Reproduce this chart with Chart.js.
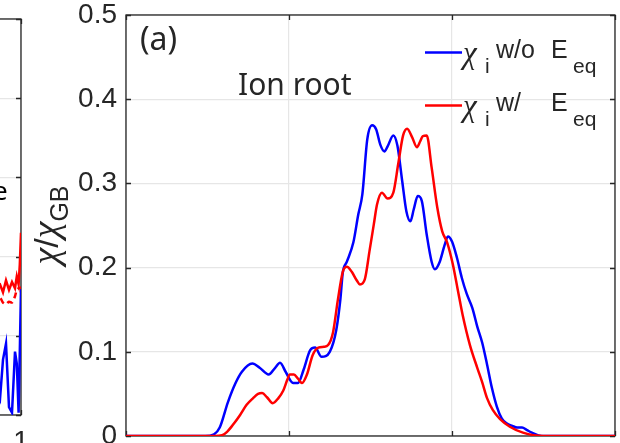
<!DOCTYPE html>
<html>
<head>
<meta charset="utf-8">
<script src="https://cdn.jsdelivr.net/npm/chart.js@4.4.1/dist/chart.umd.min.js"></script>
<style>
  html, body { margin: 0; padding: 0; background: #fff; overflow: hidden; }
  #wrap { position: relative; width: 620px; height: 443px; overflow: hidden; background: #fff; }
  #left { position: absolute; left: -99px; top: 0; }
  #main { position: absolute; left: 0; top: 0; }
</style>
</head>
<body>
<div id="wrap">
  <canvas id="left" width="140" height="480"></canvas>
  <canvas id="main" width="620" height="480"></canvas>
</div>
<script>
// chi_i profiles, without / with the equilibrium radial field
const rhoNoEr = [0, 0.097, 0.108, 0.115, 0.125, 0.134, 0.142, 0.155, 0.164, 0.175, 0.183, 0.189, 0.196, 0.205, 0.211,
  0.218, 0.226, 0.232, 0.240, 0.250, 0.258, 0.263, 0.266, 0.271, 0.279, 0.285, 0.290, 0.296, 0.302, 0.307, 0.312,
  0.317, 0.321, 0.328, 0.333, 0.339, 0.344, 0.349, 0.353, 0.358, 0.363, 0.369, 0.375, 0.379, 0.385, 0.391, 0.395,
  0.400, 0.406, 0.412, 0.418, 0.425, 0.431, 0.437, 0.443, 0.449, 0.455, 0.461, 0.467, 0.474, 0.480, 0.486, 0.492,
  0.498, 0.510, 0.582, 0.600]
const chiNoEr = [0, 0, 0.002, 0.010, 0.040, 0.062, 0.076, 0.086, 0.081, 0.073, 0.081, 0.087, 0.076, 0.063, 0.063,
  0.079, 0.102, 0.105, 0.094, 0.100, 0.126, 0.162, 0.194, 0.207, 0.230, 0.263, 0.287, 0.352, 0.369, 0.364, 0.346,
  0.338, 0.344, 0.357, 0.345, 0.302, 0.267, 0.255, 0.269, 0.285, 0.279, 0.239, 0.207, 0.198, 0.207, 0.227, 0.237,
  0.231, 0.212, 0.188, 0.169, 0.152, 0.130, 0.111, 0.085, 0.057, 0.035, 0.021, 0.015, 0.012, 0.010, 0.010, 0.007,
  0.004, 0, 0, 0]

const rhoWithEr = [0, 0.109, 0.118, 0.124, 0.131, 0.140, 0.148, 0.156, 0.162, 0.167, 0.173, 0.180, 0.187, 0.193,
  0.198, 0.201, 0.206, 0.211, 0.216, 0.222, 0.229, 0.236, 0.243, 0.248, 0.254, 0.260, 0.266, 0.271, 0.277, 0.283,
  0.287, 0.293, 0.299, 0.304, 0.308, 0.314, 0.321, 0.328, 0.334, 0.340, 0.345, 0.351, 0.357, 0.361, 0.364, 0.369,
  0.375, 0.382, 0.388, 0.394, 0.401, 0.407, 0.413, 0.422, 0.431, 0.437, 0.443, 0.450, 0.459, 0.471, 0.487, 0.512, 0.600]
const chiWithEr = [0, 0, 0.001, 0.005, 0.013, 0.025, 0.037, 0.045, 0.050, 0.051, 0.046, 0.039, 0.045, 0.054,
  0.067, 0.073, 0.073, 0.068, 0.063, 0.073, 0.096, 0.105, 0.106, 0.108, 0.123, 0.162, 0.195, 0.201, 0.195, 0.185,
  0.180, 0.186, 0.221, 0.251, 0.275, 0.289, 0.282, 0.289, 0.323, 0.357, 0.365, 0.355, 0.343, 0.350, 0.356, 0.357,
  0.319, 0.271, 0.243, 0.230, 0.204, 0.174, 0.144, 0.108, 0.081, 0.064, 0.045, 0.031, 0.020, 0.011, 0.004, 0, 0]

// edge of the neighbouring panel (only its last few points show)
const rhoEdge = [0.95, 0.965, 0.970, 0.975, 0.980, 0.985, 0.990, 0.993, 0.996, 0.998, 1.0]
const chiEdgeRed = [0.16, 0.165, 0.155, 0.17, 0.158, 0.168, 0.16, 0.175, 0.165, 0.19, 0.23]
const chiEdgeRedDash = [0.15, 0.148, 0.142, 0.14, 0.143, 0.142, 0.15, 0.158, 0.16, 0.16, 0.162]
const chiEdgeBlue = [0.05, 0.02, 0.07, 0.09, 0.01, 0.003, 0.08, 0.065, 0.003, 0.08, 0.16]

const yTicks = [0, 0.1, 0.2, 0.3, 0.4, 0.5]

const AXIS = '#262626'
const GRID = '#e6e6e6'
const TICK_FONT = { family: 'Liberation Sans', size: 28 }
const SERIF_CHI = 'italic 31px "Liberation Serif"'

const pts = (xs, ys) => xs.map((x, i) => ({ x: x, y: ys[i] }))

const line = (label, xs, ys, color, extra) => Object.assign({
  label: label,
  data: pts(xs, ys),
  borderColor: color,
  borderWidth: 2.5,
  pointRadius: 0,
  fill: false,
  cubicInterpolationMode: 'monotone'
}, extra || {})

// drop the label overhang padding so the plot box lands where it is asked to
const noPad = s => {
  s.paddingLeft = 0; s.paddingRight = 0; s.paddingTop = 0; s.paddingBottom = 0
}

// box with inward ticks, MATLAB style
const boxPlugin = {
  id: 'box',
  beforeDatasetsDraw(chart) {
    const { ctx, chartArea: a, scales } = chart
    ctx.save()
    ctx.strokeStyle = AXIS
    ctx.lineWidth = 1.3
    ctx.strokeRect(a.left, a.top, a.right - a.left, a.bottom - a.top)
    const t = 5
    ctx.beginPath()
    scales.y.ticks.forEach(tk => {
      const y = Math.round(scales.y.getPixelForValue(tk.value)) + 0.5
      ctx.moveTo(a.left, y); ctx.lineTo(a.left + t, y)
      ctx.moveTo(a.right, y); ctx.lineTo(a.right - t, y)
    })
    scales.x.ticks.forEach(tk => {
      const x = Math.round(scales.x.getPixelForValue(tk.value)) + 0.5
      ctx.moveTo(x, a.top); ctx.lineTo(x, a.top + t)
      ctx.moveTo(x, a.bottom); ctx.lineTo(x, a.bottom - t)
    })
    ctx.stroke()
    ctx.restore()
  }
}

function drawPieces(ctx, pieces) {
  pieces.forEach(p => {
    ctx.font = p.font
    ctx.fillText(p.t, p.x, p.y)
  })
}

const labelPlugin = {
  id: 'labels',
  afterDraw(chart) {
    const ctx = chart.ctx
    ctx.save()
    ctx.fillStyle = AXIS
    ctx.textBaseline = 'alphabetic'
    ctx.textAlign = 'left'

    ctx.font = '32px "Noto Sans"'
    ctx.fillText('(a)', 140, 50)
    ctx.font = '30px "Noto Sans"'
    ctx.fillText('Ion root', 238, 95)

    // legend
    const rows = [
      { color: '#0000ff', y: 52.5, txt: 'w/o' },
      { color: '#ff0000', y: 105.5, txt: 'w/' }
    ]
    rows.forEach(r => {
      ctx.strokeStyle = r.color
      ctx.lineWidth = 2.5
      ctx.beginPath()
      ctx.moveTo(425, r.y); ctx.lineTo(462, r.y)
      ctx.stroke()
      const b = r.y + 5.5
      drawPieces(ctx, [
        { t: 'χ', font: SERIF_CHI, x: 463, y: b + 5 },
        { t: 'i', font: '21px "Liberation Sans"', x: 485, y: b + 15 },
        { t: r.txt, font: '25px "Liberation Sans"', x: 496, y: b },
        { t: 'E', font: '25px "Liberation Sans"', x: 551, y: b },
        { t: 'eq', font: '21px "Liberation Sans"', x: 573, y: b + 15 }
      ])
    })

    // y axis title: chi / chi_GB
    ctx.translate(58, 225)
    ctx.rotate(-Math.PI / 2)
    const parts = [
      { t: 'χ', font: 'italic 38px "Liberation Serif"', dy: 0 },
      { t: '/', font: '34px "Liberation Sans"', dy: 0 },
      { t: 'χ', font: 'italic 38px "Liberation Serif"', dy: 0 },
      { t: 'GB', font: '25px "Liberation Sans"', dy: 10 }
    ]
    let total = 0
    parts.forEach(p => { ctx.font = p.font; p.w = ctx.measureText(p.t).width; total += p.w })
    let x = -total / 2
    parts.forEach(p => {
      ctx.font = p.font
      ctx.fillText(p.t, x, p.dy)
      x += p.w
    })
    ctx.restore()
  }
}

new Chart(document.getElementById('main'), {
  type: 'line',
  data: {
    datasets: [
      line('χi w/o Eeq', rhoNoEr, chiNoEr, '#0000ff', { order: 1 }),
      line('χi w/ Eeq', rhoWithEr, chiWithEr, '#ff0000', { order: 0 })
    ]
  },
  options: {
    animation: false,
    responsive: false,
    layout: { autoPadding: false, padding: { top: 15, right: 5, left: 0, bottom: 0 } },
    plugins: { legend: { display: false }, tooltip: { enabled: false } },
    scales: {
      x: {
        type: 'linear', min: 0, max: 0.6,
        ticks: { stepSize: 0.2, font: TICK_FONT, color: AXIS, padding: 10, maxRotation: 0 },
        grid: { color: GRID, lineWidth: 1.2, drawTicks: false },
        border: { display: false },
        afterFit: s => { s.height = 44; noPad(s) }
      },
      y: {
        min: 0, max: 0.5,
        afterBuildTicks: s => { s.ticks = yTicks.map(v => ({ value: v })) },
        ticks: { font: TICK_FONT, color: AXIS, padding: 9 },
        grid: { color: GRID, lineWidth: 1.2, drawTicks: false },
        border: { display: false },
        afterFit: s => { s.width = 126; noPad(s) }
      }
    }
  },
  plugins: [boxPlugin, labelPlugin]
})

// neighbouring panel, only its right edge falls inside the page
new Chart(document.getElementById('left'), {
  type: 'line',
  data: {
    datasets: [
      line('blue', rhoEdge, chiEdgeBlue, '#0000ff', { order: 2, cubicInterpolationMode: 'default', tension: 0 }),
      line('red dashed', rhoEdge, chiEdgeRedDash, '#ff0000', { order: 1, borderDash: [6, 4], cubicInterpolationMode: 'default', tension: 0.3 }),
      line('red', rhoEdge, chiEdgeRed, '#ff0000', { order: 0, cubicInterpolationMode: 'default', tension: 0 })
    ]
  },
  options: {
    animation: false,
    responsive: false,
    layout: { autoPadding: false, padding: { top: 19, right: 20, left: 0, bottom: 0 } },
    plugins: { legend: { display: false }, tooltip: { enabled: false } },
    scales: {
      x: {
        type: 'linear', min: 0.8, max: 1.0,
        ticks: {
          stepSize: 0.1, font: TICK_FONT, color: AXIS, padding: 10, maxRotation: 0,
          callback: v => String(+Number(v).toFixed(1))
        },
        grid: { color: GRID, lineWidth: 1.2, drawTicks: false },
        border: { display: false },
        afterFit: s => { s.height = 65; noPad(s) }
      },
      y: {
        min: 0, max: 0.5,
        afterBuildTicks: s => { s.ticks = yTicks.map(v => ({ value: v })) },
        ticks: { display: false },
        grid: { color: GRID, lineWidth: 1.2, drawTicks: false },
        border: { display: false },
        afterFit: s => { s.width = 0; noPad(s) }
      }
    }
  },
  plugins: [boxPlugin, {
    id: 'edgeText',
    afterDraw(chart) {
      const ctx = chart.ctx
      ctx.save()
      ctx.fillStyle = '#000'
      ctx.font = '26px "Noto Sans"'
      ctx.fillText('e', 92, 200)
      ctx.restore()
    }
  }]
})
</script>
</body>
</html>
